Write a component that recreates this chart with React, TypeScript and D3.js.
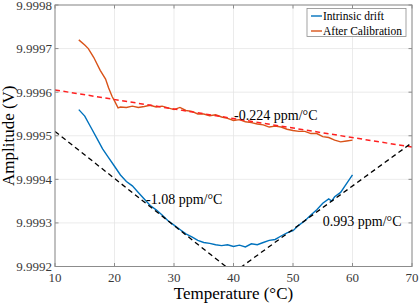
import React from "react";
import * as d3 from "d3";

const W = 419, H = 305;
const M = { left: 55, right: 412, top: 5, bottom: 266.5 };

const xTicks = [10, 20, 30, 40, 50, 60, 70];
const yTicks = [9.9992, 9.9993, 9.9994, 9.9995, 9.9996, 9.9997, 9.9998];

// Intrinsic drift (blue)
const driftT = [14, 15, 16, 17, 18, 19, 20, 21, 22, 23, 24, 25, 26, 27, 28, 29, 30, 31, 32, 33, 34, 35, 36, 37, 38, 39, 40, 41, 42, 43, 44, 45, 46, 47, 48, 49, 50, 51, 52, 53, 54, 55, 56, 56.5, 57, 58, 59, 60];
const driftV = [9.99956, 9.999545, 9.99952, 9.999495, 9.99947, 9.99945, 9.99943, 9.99941, 9.999395, 9.999385, 9.99937, 9.999355, 9.99934, 9.99933, 9.999318, 9.999305, 9.999295, 9.999285, 9.999275, 9.999268, 9.99926, 9.999255, 9.999253, 9.99925, 9.999248, 9.99925, 9.999246, 9.999249, 9.999245, 9.999252, 9.99925, 9.999255, 9.99926, 9.999262, 9.99927, 9.999277, 9.999282, 9.999295, 9.999305, 9.999318, 9.99933, 9.999345, 9.999355, 9.99935, 9.99936, 9.99937, 9.99939, 9.99941];

// After calibration (orange)
const calT = [14, 15, 15.6, 16.5, 17.6, 18.5, 19, 19.6, 20, 20.6, 21, 22, 23, 24, 25, 26, 27, 28, 29, 30, 31, 32, 33, 34, 35, 36, 37, 38, 39, 40, 41, 42, 43, 44, 45, 46, 47, 48, 49, 50, 51, 52, 53, 54, 55, 56, 57, 58, 59, 60];
const calV = [9.99972, 9.999708, 9.9997, 9.99968, 9.99965, 9.99963, 9.99961, 9.99959, 9.99958, 9.999564, 9.999566, 9.999565, 9.999568, 9.999565, 9.999567, 9.99957, 9.999566, 9.999568, 9.999564, 9.99956, 9.999565, 9.999558, 9.999556, 9.99955, 9.99955, 9.999546, 9.999548, 9.999543, 9.99954, 9.999535, 9.999537, 9.999532, 9.99953, 9.999527, 9.999525, 9.99952, 9.999522, 9.99952, 9.999515, 9.999512, 9.99951, 9.99951, 9.999505, 9.999505, 9.999498, 9.999496, 9.99949, 9.999486, 9.999488, 9.99949];

// fitted lines
const calFitT = [10, 70];
const calFitV = [9.999605, 9.999474];
const leftFitT = [10, 40];
const leftFitV = [9.99951, 9.999186];
const rightFitT = [40, 70];
const rightFitV = [9.999186, 9.999484];

const seriesNames = ["Intrinsic drift", "After Calibration"];
const annotations = [
  { t: 40.1, v: 9.999536, text: "-0.224 ppm/°C" },
  { t: 25.3, v: 9.999344, text: "-1.08 ppm/°C" },
  { t: 55.0, v: 9.999293, text: "0.993 ppm/°C" },
];

const BLUE = "#0072BD";
const ORANGE = "#D95319";
const FONT = "Liberation Serif";

export default function App() {
  const x = d3.scaleLinear().domain([10, 70]).range([M.left, M.right]);
  const y = d3.scaleLinear().domain([9.9992, 9.9998]).range([M.bottom, M.top]);
  const line = d3.line<[number, number]>().x(d => x(d[0])).y(d => y(d[1]));
  const pts = (t: number[], v: number[]) => t.map((a, i) => [a, v[i]] as [number, number]);

  return (
    <svg width={W} height={H} style={{ position: "absolute", left: 0, top: 0, background: "#fff", fontFamily: FONT }}>
      <defs>
        <clipPath id="plotclip">
          <rect x={M.left} y={M.top} width={M.right - M.left} height={M.bottom - M.top} />
        </clipPath>
      </defs>
      {xTicks.map(t => (
        <line key={"gx" + t} x1={x(t)} x2={x(t)} y1={M.top} y2={M.bottom} stroke="#e6e6e6" strokeWidth={0.8} />
      ))}
      {yTicks.map(t => (
        <line key={"gy" + t} x1={M.left} x2={M.right} y1={y(t)} y2={y(t)} stroke="#e6e6e6" strokeWidth={0.8} />
      ))}
      <g clipPath="url(#plotclip)">
        <path d={line(pts(driftT, driftV)) || ""} fill="none" stroke={BLUE} strokeWidth={1.4} />
        <path d={line(pts(calT, calV)) || ""} fill="none" stroke={ORANGE} strokeWidth={1.4} />
        <path d={line(pts(calFitT, calFitV)) || ""} fill="none" stroke="#ff2020" strokeWidth={1.5} strokeDasharray="5,3.5" />
        <path d={line(pts(leftFitT, leftFitV)) || ""} fill="none" stroke="#000" strokeWidth={1.3} strokeDasharray="5,3.5" />
        <path d={line(pts(rightFitT, rightFitV)) || ""} fill="none" stroke="#000" strokeWidth={1.3} strokeDasharray="5,3.5" />
      </g>
      <rect x={M.left} y={M.top} width={M.right - M.left} height={M.bottom - M.top} fill="none" stroke="#8c8c8c" strokeWidth={1} />
      {xTicks.map(t => (
        <g key={"xt" + t}>
          <line x1={x(t)} x2={x(t)} y1={M.bottom} y2={M.bottom - 3.5} stroke="#8c8c8c" />
          <line x1={x(t)} x2={x(t)} y1={M.top} y2={M.top + 3.5} stroke="#8c8c8c" />
          <text x={x(t)} y={M.bottom + 15} textAnchor="middle" fontSize={13} fill="#3a3a3a">{t}</text>
        </g>
      ))}
      {yTicks.map(t => (
        <g key={"yt" + t}>
          <line x1={M.left} x2={M.left + 3.5} y1={y(t)} y2={y(t)} stroke="#8c8c8c" />
          <line x1={M.right} x2={M.right - 3.5} y1={y(t)} y2={y(t)} stroke="#8c8c8c" />
          <text x={M.left - 3} y={y(t) + 4.5} textAnchor="end" fontSize={13} fill="#3a3a3a">{t.toFixed(4)}</text>
        </g>
      ))}
      <text x={(M.left + M.right) / 2} y={299} textAnchor="middle" fontSize={17} fill="#000">Temperature (°C)</text>
      <text transform={`translate(14,${(M.top + M.bottom) / 2}) rotate(-90)`} textAnchor="middle" fontSize={17} fill="#000">Amplitude (V)</text>
      {annotations.map((a, i) => (
        <text key={"an" + i} x={x(a.t)} y={y(a.v)} fontSize={14} fill="#000">{a.text}</text>
      ))}
      <g>
        <rect x={307} y={8.5} width={99} height={28} fill="#fff" stroke="#8c8c8c" strokeWidth={0.8} />
        {seriesNames.map((n, i) => (
          <g key={"lg" + i}>
            <line x1={311} x2={322} y1={16 + i * 15} y2={16 + i * 15} stroke={i === 0 ? BLUE : ORANGE} strokeWidth={1.4} />
            <text x={323} y={16 + i * 15 + 4} fontSize={11.5} fill="#000">{n}</text>
          </g>
        ))}
      </g>
    </svg>
  );
}
